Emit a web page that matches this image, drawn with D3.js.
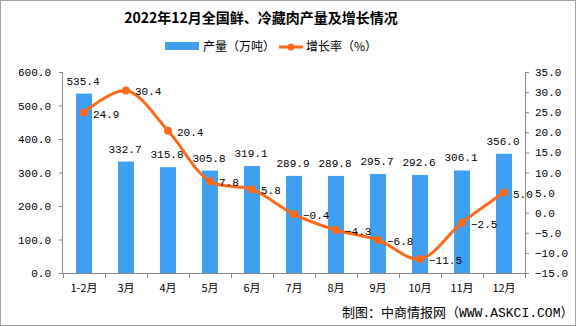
<!DOCTYPE html>
<html><head><meta charset="utf-8">
<script src="https://cdn.jsdelivr.net/npm/d3@7"></script>
<style>body{margin:0;background:#fff}svg{display:block}</style>
</head><body>
<script>
const categories = ["1-2月","3月","4月","5月","6月","7月","8月","9月","10月","11月","12月"];
const production = [535.4,332.7,315.8,305.8,319.1,289.9,289.8,295.7,292.6,306.1,356.0];
const growth = [24.9,30.4,20.4,7.8,5.8,-0.4,-4.3,-6.8,-11.5,-2.5,5.0];
const leftTicks = [0,100,200,300,400,500,600];
const rightTicks = [-15,-10,-5,0,5,10,15,20,25,30,35];
const title = "2022年12月全国鲜、冷藏肉产量及增长情况";
const sourceCJK = "制图：中商情报网（";
const sourceLatin = "WWW.ASKCI.COM";

const W=576,H=326;
const svg=d3.select("body").append("svg").attr("width",W).attr("height",H);
svg.append("rect").attr("x",0.5).attr("y",0.5).attr("width",W-1).attr("height",H-1).attr("fill","#fff").attr("stroke","#a0a0a0");
const mono="'Liberation Mono','DejaVu Sans Mono',monospace";
const cjk="'Noto Sans CJK SC','Noto Sans',sans-serif";

const x=d3.scaleBand().domain(categories).range([63,525]).paddingInner(0.62).paddingOuter(0.31);
const xb=d3.scaleBand().domain(categories).range([63,525]);
const yL=d3.scaleLinear().domain([0,600]).range([273,72]);
const yR=d3.scaleLinear().domain([-15,35]).range([273,72]);

svg.append("text").attr("x",261).attr("y",23).attr("text-anchor","middle").attr("font-family",cjk).attr("font-weight","bold").attr("font-size",14).text(title);

// legend
svg.append("rect").attr("x",165).attr("y",42).attr("width",34).attr("height",8).attr("fill","#3F9FF0");
svg.append("text").attr("x",203).attr("y",51).attr("font-family",cjk).attr("font-size",12).text("产量（万吨）");
svg.append("line").attr("x1",279).attr("x2",303).attr("y1",47).attr("y2",47).attr("stroke","#FF6A1A").attr("stroke-width",3);
svg.append("circle").attr("cx",291).attr("cy",47).attr("r",3.5).attr("fill","#FF6A1A");
svg.append("text").attr("x",306).attr("y",51).attr("font-family",cjk).attr("font-size",12).text("增长率（%）");

// axes
const fmt=d=>d<0?"−"+Math.abs(d).toFixed(1):d.toFixed(1);
const gL=svg.append("g").attr("transform","translate(63,0)")
  .call(d3.axisLeft(yL).tickValues(leftTicks).tickFormat(d3.format(".1f")).tickSize(4).tickPadding(8));
const gR=svg.append("g").attr("transform","translate(525,0)")
  .call(d3.axisRight(yR).tickValues(rightTicks).tickFormat(fmt).tickSize(4).tickPadding(6));
[gL,gR].forEach(g=>{g.selectAll("path,line").attr("stroke","#888");g.selectAll("text").attr("font-family",mono).attr("font-size",11).attr("fill","#000");});
gL.select(".domain").attr("d","M-0.5,72V273.5").attr("stroke","#888");
gR.select(".domain").attr("d","M0.5,72V273.5").attr("stroke","#888");

const gX=svg.append("g").attr("transform","translate(0,273)");
gX.append("line").attr("x1",63).attr("x2",525).attr("y1",0.5).attr("y2",0.5).attr("stroke","#888");
const bounds=categories.map(c=>xb(c)).concat([525]);
gX.selectAll("line.t").data(bounds).join("line").attr("class","t").attr("x1",d=>Math.round(d)+0.5).attr("x2",d=>Math.round(d)+0.5).attr("y1",0).attr("y2",5).attr("stroke","#888");
gX.selectAll("text").data(categories).join("text").attr("x",d=>xb(d)+xb.bandwidth()/2).attr("y",19).attr("text-anchor","middle").attr("font-family",cjk).attr("font-size",11).text(d=>d);

// bars
svg.selectAll("rect.bar").data(production).join("rect").attr("class","bar")
  .attr("x",(d,i)=>x(categories[i])).attr("width",x.bandwidth())
  .attr("y",d=>yL(d)).attr("height",d=>yL(0)-yL(d)).attr("fill","#3F9FF0");
svg.selectAll("text.bl").data(production).join("text").attr("class","bl")
  .attr("x",(d,i)=>x(categories[i])+x.bandwidth()/2-1).attr("y",d=>yL(d)-9)
  .attr("text-anchor","middle").attr("font-family",mono).attr("font-size",11).text(d=>d.toFixed(1));

// line
const cx=i=>xb(categories[i])+xb.bandwidth()/2;
const line=d3.line().x((d,i)=>cx(i)).y(d=>yR(d)).curve(d3.curveCatmullRom.alpha(0.5));
svg.append("path").attr("d",line(growth)).attr("fill","none").attr("stroke","#FF6A1A").attr("stroke-width",3);
svg.selectAll("circle.p").data(growth).join("circle").attr("class","p").attr("cx",(d,i)=>cx(i)).attr("cy",d=>yR(d)).attr("r",4).attr("fill","#FF6A1A");
svg.selectAll("text.gl").data(growth).join("text").attr("class","gl")
  .attr("x",(d,i)=>cx(i)+9).attr("y",d=>yR(d)+5)
  .attr("font-family",mono).attr("font-size",11).text(fmt);

const src=svg.append("text").attr("x",342).attr("y",317).attr("font-size",13);
src.append("tspan").attr("font-family",cjk).text(sourceCJK);
src.append("tspan").attr("font-family",mono).text(sourceLatin);
src.append("tspan").attr("font-family",cjk).text("）");
</script>
</body></html>
